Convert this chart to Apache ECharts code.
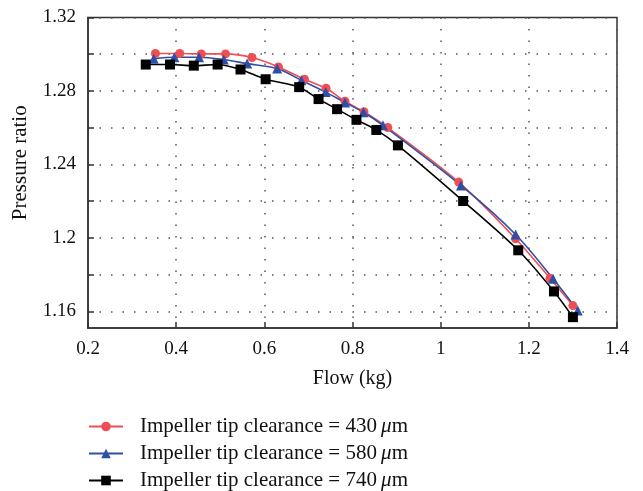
<!DOCTYPE html>
<html>
<head>
<meta charset="utf-8">
<script src="https://cdn.jsdelivr.net/npm/echarts@6/dist/echarts.min.js"></script>
<style>html,body{margin:0;padding:0;background:#fff}#c{width:643px;height:491px}</style>
</head>
<body>
<div id="c"></div>
<script>
// Data
const flow430 = [0.353, 0.408, 0.457, 0.512, 0.572, 0.632, 0.691, 0.740, 0.783, 0.826, 0.880, 1.041, 1.170, 1.248, 1.300];
const ratio430 = [1.3004, 1.3004, 1.3002, 1.3002, 1.2982, 1.2931, 1.2864, 1.2815, 1.2744, 1.2687, 1.2601, 1.2304, 1.1996, 1.1781, 1.1632];
const flow580 = [0.349, 0.396, 0.452, 0.508, 0.561, 0.629, 0.684, 0.739, 0.783, 0.825, 0.869, 1.046, 1.170, 1.255, 1.311];
const ratio580 = [1.2976, 1.2984, 1.2984, 1.2971, 1.2949, 1.2922, 1.2858, 1.2794, 1.2737, 1.2684, 1.2613, 1.2286, 1.2019, 1.1778, 1.1605];
const flow740 = [0.331, 0.386, 0.440, 0.494, 0.546, 0.603, 0.679, 0.723, 0.765, 0.809, 0.854, 0.903, 1.051, 1.176, 1.257, 1.300];
const ratio740 = [1.2944, 1.2944, 1.2938, 1.2944, 1.2917, 1.2864, 1.2821, 1.2756, 1.2701, 1.2643, 1.2588, 1.2504, 1.2201, 1.1933, 1.1709, 1.1569];
const seriesNames = ['Impeller tip clearance = 430', 'Impeller tip clearance = 580', 'Impeller tip clearance = 740'];
const xTicks = [0.2, 0.4, 0.6, 0.8, 1.0, 1.2, 1.4];
const yLabels = [1.16, 1.2, 1.24, 1.28, 1.32];
const yTicks = [1.16, 1.18, 1.2, 1.22, 1.24, 1.26, 1.28, 1.3, 1.32];

const zip = (xs, ys) => xs.map((x, i) => [x, ys[i]]);
const FONT = 'Liberation Serif';

const chart = echarts.init(document.getElementById('c'), null, {renderer: 'canvas'});
const mk = (name, xs, ys, color, symbol, size) => ({
  name: name, type: 'line', data: zip(xs, ys), smooth: 0.3,
  symbol: symbol, symbolSize: size, showSymbol: true,
  lineStyle: {color: color, width: 1.6},
  itemStyle: {color: color},
  emphasis: {disabled: true}
});
chart.setOption({
  animation: false,
  backgroundColor: '#fff',
  grid: {left: 88, top: 17.5, right: 26, bottom: 163, show: true, borderColor: '#333', borderWidth: 1.5, containLabel: false},
  xAxis: {
    type: 'value', min: 0.2, max: 1.4, interval: 0.2,
    name: 'Flow (kg)', nameLocation: 'middle', nameGap: 41,
    nameTextStyle: {fontFamily: FONT, fontSize: 20, color: '#111'},
    axisLine: {show: true, onZero: false, lineStyle: {color: '#333', width: 1.5}},
    axisTick: {show: true, inside: true, length: 6, lineStyle: {color: '#333', width: 1.5}},
    axisLabel: {fontFamily: FONT, fontSize: 19, color: '#111', margin: 12, formatter: v => String(Math.round(v * 10) / 10)},
    splitLine: {show: true, lineStyle: {color: '#555', type: [1.5, 10], width: 1.5}}
  },
  yAxis: {
    type: 'value', min: 1.151, max: 1.32,
    name: 'Pressure ratio', nameLocation: 'middle', nameGap: 57,
    nameTextStyle: {fontFamily: FONT, fontSize: 21, color: '#111', padding: [0, 0, 0, 20]},
    axisLine: {show: true, onZero: false, lineStyle: {color: '#333', width: 1.5}},
    axisTick: {show: true, inside: true, length: 6, customValues: yTicks, lineStyle: {color: '#333', width: 1.5}},
    axisLabel: {fontFamily: FONT, fontSize: 19, color: '#111', margin: 12, customValues: yLabels, formatter: v => String(Math.round(v * 100) / 100)},
    splitLine: {show: true, lineStyle: {color: '#555', type: [1.5, 10], width: 1.5}}
  },
  legend: {
    orient: 'vertical', left: 88, top: 416, padding: 0,
    itemWidth: 34, itemHeight: 12, itemGap: 6,
    data: seriesNames,
    formatter: n => '{a|' + n + '\u2009}{i|\u03bc}{a|m}',
    textStyle: {
      fontFamily: FONT, fontSize: 21, color: '#111', padding: [0, 0, 0, 12], lineHeight: 20,
      rich: {
        a: {fontFamily: FONT, fontSize: 21, color: '#111', lineHeight: 20},
        i: {fontFamily: FONT, fontSize: 21, color: '#111', fontStyle: 'italic', lineHeight: 20}
      }
    }
  },
  series: [
    mk(seriesNames[0], flow430, ratio430, '#EE4F55', 'circle', 9),
    mk(seriesNames[1], flow580, ratio580, '#2F4FA6', 'triangle', 10),
    mk(seriesNames[2], flow740, ratio740, '#000000', 'rect', 10)
  ]
});
</script>
</body>
</html>
